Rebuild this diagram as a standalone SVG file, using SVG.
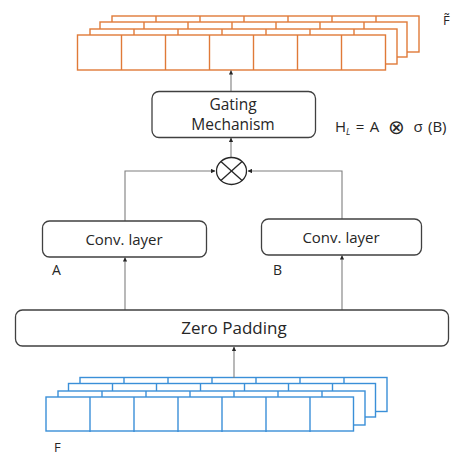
<svg xmlns="http://www.w3.org/2000/svg" width="451" height="456" viewBox="0 0 451 456">
<style>
.txt{font-family:"Open Sans","Noto Sans","Liberation Sans",sans-serif;fill:#262626}
.box{fill:#fff;stroke:#404040;stroke-width:1.3}
.or{fill:#fff;stroke:#E07A38;stroke-width:1.4}
.ol{stroke:#E07A38;stroke-width:1.4}
.bl{fill:#fff;stroke:#3A8FD8;stroke-width:1.4}
.bll{stroke:#3A8FD8;stroke-width:1.4}
.con{fill:none;stroke:#7f7f7f;stroke-width:1.1}
</style>
<defs>
<marker id="ah" viewBox="0 0 6 6" refX="5.5" refY="3" markerWidth="4" markerHeight="4" orient="auto">
<path d="M0,0 L6,3 L0,6 z" fill="#262626"/>
</marker>
<g id="ocells">
<line x1="44" y1="0" x2="44" y2="35"/><line x1="88" y1="0" x2="88" y2="35"/><line x1="132" y1="0" x2="132" y2="35"/><line x1="176" y1="0" x2="176" y2="35"/><line x1="220" y1="0" x2="220" y2="35"/><line x1="264" y1="0" x2="264" y2="35"/>
</g>
</defs>

<g id="output-stack">
<rect class="or" x="112" y="16" width="307" height="36"/>
<use href="#ocells" x="112" y="16" class="ol"/>
<rect class="or" x="100" y="22" width="307" height="35"/>
<use href="#ocells" x="100" y="22" class="ol"/>
<rect class="or" x="90" y="29" width="307" height="35"/>
<use href="#ocells" x="90" y="29" class="ol"/>
<rect class="or" x="77.5" y="35" width="308" height="35"/>
<use href="#ocells" x="77.5" y="35" class="ol"/>
<text class="txt" x="443" y="25" font-size="13">F̃</text>
</g>

<g id="input-stack">
<rect class="bl" x="80" y="377.5" width="307" height="34"/>
<use href="#ocells" x="80" y="377.5" class="bll"/>
<rect class="bl" x="68.5" y="383.5" width="307" height="33.5"/>
<use href="#ocells" x="68.5" y="383.5" class="bll"/>
<rect class="bl" x="58" y="391" width="307" height="34"/>
<use href="#ocells" x="58" y="391" class="bll"/>
<rect class="bl" x="46" y="397" width="307.5" height="34"/>
<use href="#ocells" x="46" y="397" class="bll"/>
<text class="txt" x="54" y="452" font-size="13">F</text>
</g>

<g id="connectors">
<line class="con" x1="234" y1="378" x2="234" y2="347" marker-end="url(#ah)"/>
<line class="con" x1="125" y1="310" x2="125" y2="257.5" marker-end="url(#ah)"/>
<line class="con" x1="342" y1="310" x2="342" y2="255.5" marker-end="url(#ah)"/>
<polyline class="con" points="125,221 125,171 215,171" marker-end="url(#ah)"/>
<polyline class="con" points="342,219 342,171 248,171" marker-end="url(#ah)"/>
<line class="con" x1="231" y1="157" x2="231" y2="138" marker-end="url(#ah)"/>
<line class="con" x1="231" y1="91" x2="231" y2="70.5" marker-end="url(#ah)"/>
</g>

<g id="zero-padding">
<rect class="box" x="15.5" y="310" width="433" height="36" rx="7"/>
<text class="txt" x="234" y="334" font-size="17" text-anchor="middle">Zero Padding</text>
</g>

<g id="conv-a">
<rect class="box" x="42.5" y="221" width="164" height="36" rx="7"/>
<text class="txt" x="124" y="245" font-size="15" text-anchor="middle">Conv. layer</text>
<text class="txt" x="52" y="275" font-size="14">A</text>
</g>

<g id="conv-b">
<rect class="box" x="261.5" y="219" width="160" height="36" rx="7"/>
<text class="txt" x="341" y="243" font-size="15" text-anchor="middle">Conv. layer</text>
<text class="txt" x="273" y="275" font-size="14">B</text>
</g>

<g id="multiply">
<ellipse cx="231.5" cy="171" rx="15" ry="13.5" fill="#fff" stroke="#262626" stroke-width="1.3"/>
<line x1="220.9" y1="161.5" x2="242.1" y2="180.5" stroke="#262626" stroke-width="1.3"/>
<line x1="242.1" y1="161.5" x2="220.9" y2="180.5" stroke="#262626" stroke-width="1.3"/>
</g>

<g id="gating">
<rect class="box" x="152" y="91.5" width="163.5" height="46" rx="7"/>
<text class="txt" x="233" y="109.5" font-size="15.5" text-anchor="middle">Gating</text>
<text class="txt" x="233" y="130" font-size="15.5" text-anchor="middle">Mechanism</text>
</g>

<g id="formula" class="txt" font-size="15" font-weight="500">
<text x="335" y="132">H</text>
<text x="346" y="135" font-size="9" font-style="italic">L</text>
<text x="360" y="132" text-anchor="middle">=</text>
<text x="374.5" y="132" text-anchor="middle">A</text>
<text x="396.5" y="133.5" text-anchor="middle" font-size="20" font-weight="normal" font-family="'DejaVu Sans',sans-serif">⊗</text>
<text x="418" y="132" text-anchor="middle">σ</text>
<text x="428" y="132">(B)</text>
</g>
</svg>
